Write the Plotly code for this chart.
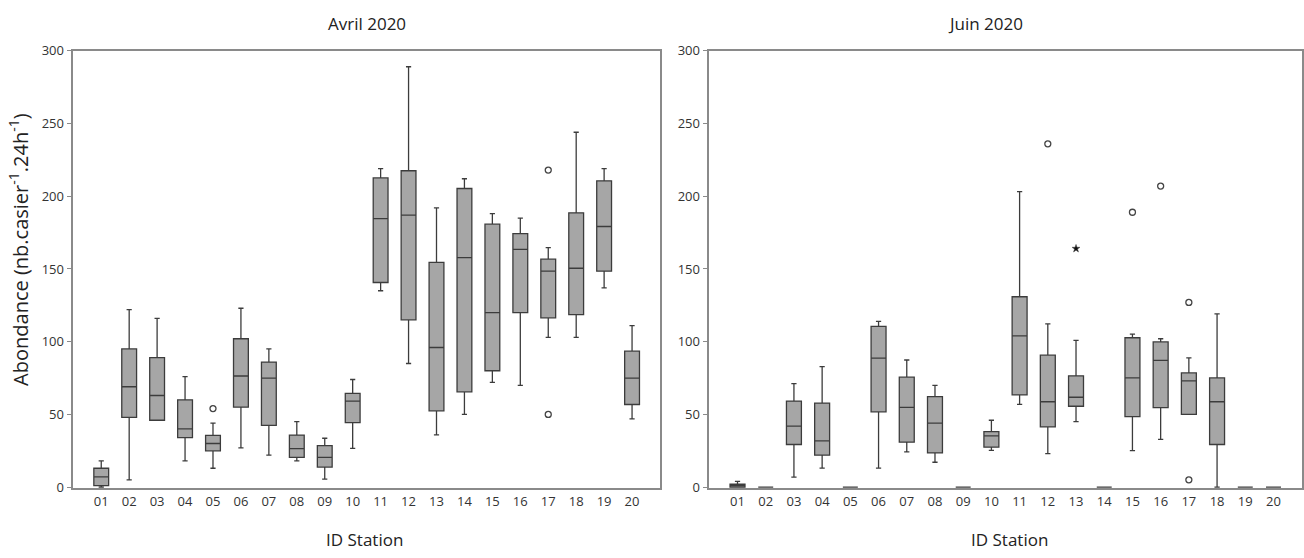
import plotly.graph_objects as go

# Station identifiers
stations = [f"{i:02d}" for i in range(1, 21)]
positions = list(range(1, 21))

# Avril 2020 — box statistics per station
avr_low = [0, 5, 46, 18, 13, 27, 22, 18, 5.5, 26.7, 135, 85, 36, 50, 72, 70, 103, 103, 137, 47]
avr_q1 = [1, 48, 46, 34, 25, 55, 42.5, 20.4, 13.8, 44.3, 140.7, 115, 52.5, 65.5, 80, 120, 116.4, 118.6, 148.5, 56.8]
avr_med = [7, 69, 63, 40, 30, 76.4, 75, 26.5, 20.4, 59.2, 184.6, 187, 96, 157.8, 120, 163.4, 148.5, 150.5, 179.2, 75]
avr_q3 = [13, 95, 89, 60, 35.6, 102, 86, 35.8, 28.5, 64.5, 212.6, 217.5, 154.5, 205.3, 180.8, 174.3, 156.7, 188.6, 210.6, 93.5]
avr_high = [18, 122, 116, 76, 44, 123, 95, 45, 33.6, 74, 219, 289, 192, 212, 188, 185, 164.7, 244, 219, 111]
avr_out_x = [5, 17, 17]
avr_out_y = [54, 218, 50]

# Juin 2020 — box statistics per station
jun_low = [0, 0, 6.9, 13.1, 0, 13.1, 24.2, 17.1, 0, 25.3, 56.9, 23.1, 45.1, 0, 25.1, 32.9, 50, 0, 0, 0]
jun_q1 = [0, 0, 29.3, 22, 0, 51.8, 30.9, 23.5, 0, 27.5, 63.4, 41.4, 55.6, 0, 48.5, 54.7, 50, 29.3, 0, 0]
jun_med = [1, 0, 42, 31.8, 0, 88.7, 54.9, 44, 0, 35.3, 104, 58.7, 61.8, 0, 75.1, 87.1, 73.1, 58.7, 0, 0]
jun_q3 = [2, 0, 59.2, 57.8, 0, 110.5, 75.6, 62.2, 0, 38.2, 130.9, 90.7, 76.5, 0, 102.7, 99.8, 78.5, 75.1, 0, 0]
jun_high = [4, 0, 71.2, 82.9, 0, 113.9, 87.4, 70, 0, 46, 203.2, 112.3, 100.9, 0, 105.2, 102, 88.9, 119.1, 0, 0]
jun_out_x = [12, 15, 16, 17, 17]
jun_out_y = [236, 189, 207, 127, 5]
jun_ext_x = [13]
jun_ext_y = [164]

BOX_FILL = "#a6a6a6"
BOX_LINE = "#3c3c3c"
FRAME = "#8a8a8a"
TEXT = "#333333"
FONT = "Open Sans"

fig = go.Figure()


def add_boxes(xref, yref, low, q1, med, q3, high):
    fig.add_trace(go.Box(
        x=positions, q1=q1, median=med, q3=q3,
        lowerfence=low, upperfence=high,
        boxpoints=False, width=0.53, whiskerwidth=0.35,
        fillcolor=BOX_FILL, line=dict(color=BOX_LINE, width=1.3),
        xaxis=xref, yaxis=yref, showlegend=False, hoverinfo="skip",
    ))


def add_points(xref, yref, xs, ys, symbol, color, size, lw):
    fig.add_trace(go.Scatter(
        x=xs, y=ys, mode="markers", xaxis=xref, yaxis=yref,
        marker=dict(symbol=symbol, size=size, color=color,
                    line=dict(color="#444444", width=lw)),
        showlegend=False, hoverinfo="skip", cliponaxis=False,
    ))


add_boxes("x", "y", avr_low, avr_q1, avr_med, avr_q3, avr_high)
add_points("x", "y", avr_out_x, avr_out_y, "circle-open", "#444444", 6, 1.3)
add_boxes("x2", "y2", jun_low, jun_q1, jun_med, jun_q3, jun_high)
add_points("x2", "y2", jun_out_x, jun_out_y, "circle-open", "#444444", 6, 1.3)
add_points("x2", "y2", jun_ext_x, jun_ext_y, "star", "#111111", 6, 0.5)

W, H = 1304, 558

xcommon = dict(
    range=[0, 21], tickmode="array", tickvals=positions, ticktext=stations,
    showline=True, linecolor=FRAME, linewidth=1.5, mirror=True,
    ticks="", showgrid=False, zeroline=False, layer="below traces",
    tickfont=dict(family=FONT, size=13, color=TEXT),
)
# a hair of headroom below zero keeps the collapsed (all-zero) boxes unclipped
ycommon = dict(
    range=[-0.7, 300], tickvals=[0, 50, 100, 150, 200, 250, 300],
    showline=True, linecolor=FRAME, linewidth=1.5, mirror=True,
    ticks="outside", ticklen=5, tickcolor=FRAME, tickwidth=1.2,
    showgrid=False, zeroline=False, layer="below traces",
    tickfont=dict(family=FONT, size=13, color=TEXT),
)

ydom = [1 - 493.3 / H, 1 - 43 / H]

fig.update_layout(
    width=W, height=H,
    margin=dict(l=0, r=0, t=0, b=0),
    paper_bgcolor="white", plot_bgcolor="white",
    xaxis=dict(domain=[73.3 / W, 660 / W], anchor="y", **xcommon),
    yaxis=dict(domain=ydom, anchor="x", **ycommon),
    xaxis2=dict(domain=[709.3 / W, 1301.7 / W], anchor="y2", **xcommon),
    yaxis2=dict(domain=ydom, anchor="x2", **ycommon),
    font=dict(family=FONT, color=TEXT),
)

annotations = [
    dict(text="Avril 2020", x=367 / W, y=1 - 15 / H, size=17),
    dict(text="Juin 2020", x=985 / W, y=1 - 15 / H, size=17),
    dict(text="ID Station", x=364 / W, y=1 - 546 / H, size=17),
    dict(text="ID Station", x=1009 / W, y=1 - 546 / H, size=17),
]
for a in annotations:
    fig.add_annotation(
        text=a["text"], x=a["x"], y=a["y"], xref="paper", yref="paper",
        showarrow=False, xanchor="center", yanchor="middle",
        font=dict(family=FONT, size=a["size"], color="#222222"),
    )

fig.add_annotation(
    text="Abondance (nb.casier<sup>-1</sup>.24h<sup>-1</sup>)",
    x=19 / W, y=1 - 248 / H, xref="paper", yref="paper",
    showarrow=False, textangle=-90, xanchor="center", yanchor="middle",
    font=dict(family=FONT, size=20, color="#222222"),
)

fig.write_html("out.html")
